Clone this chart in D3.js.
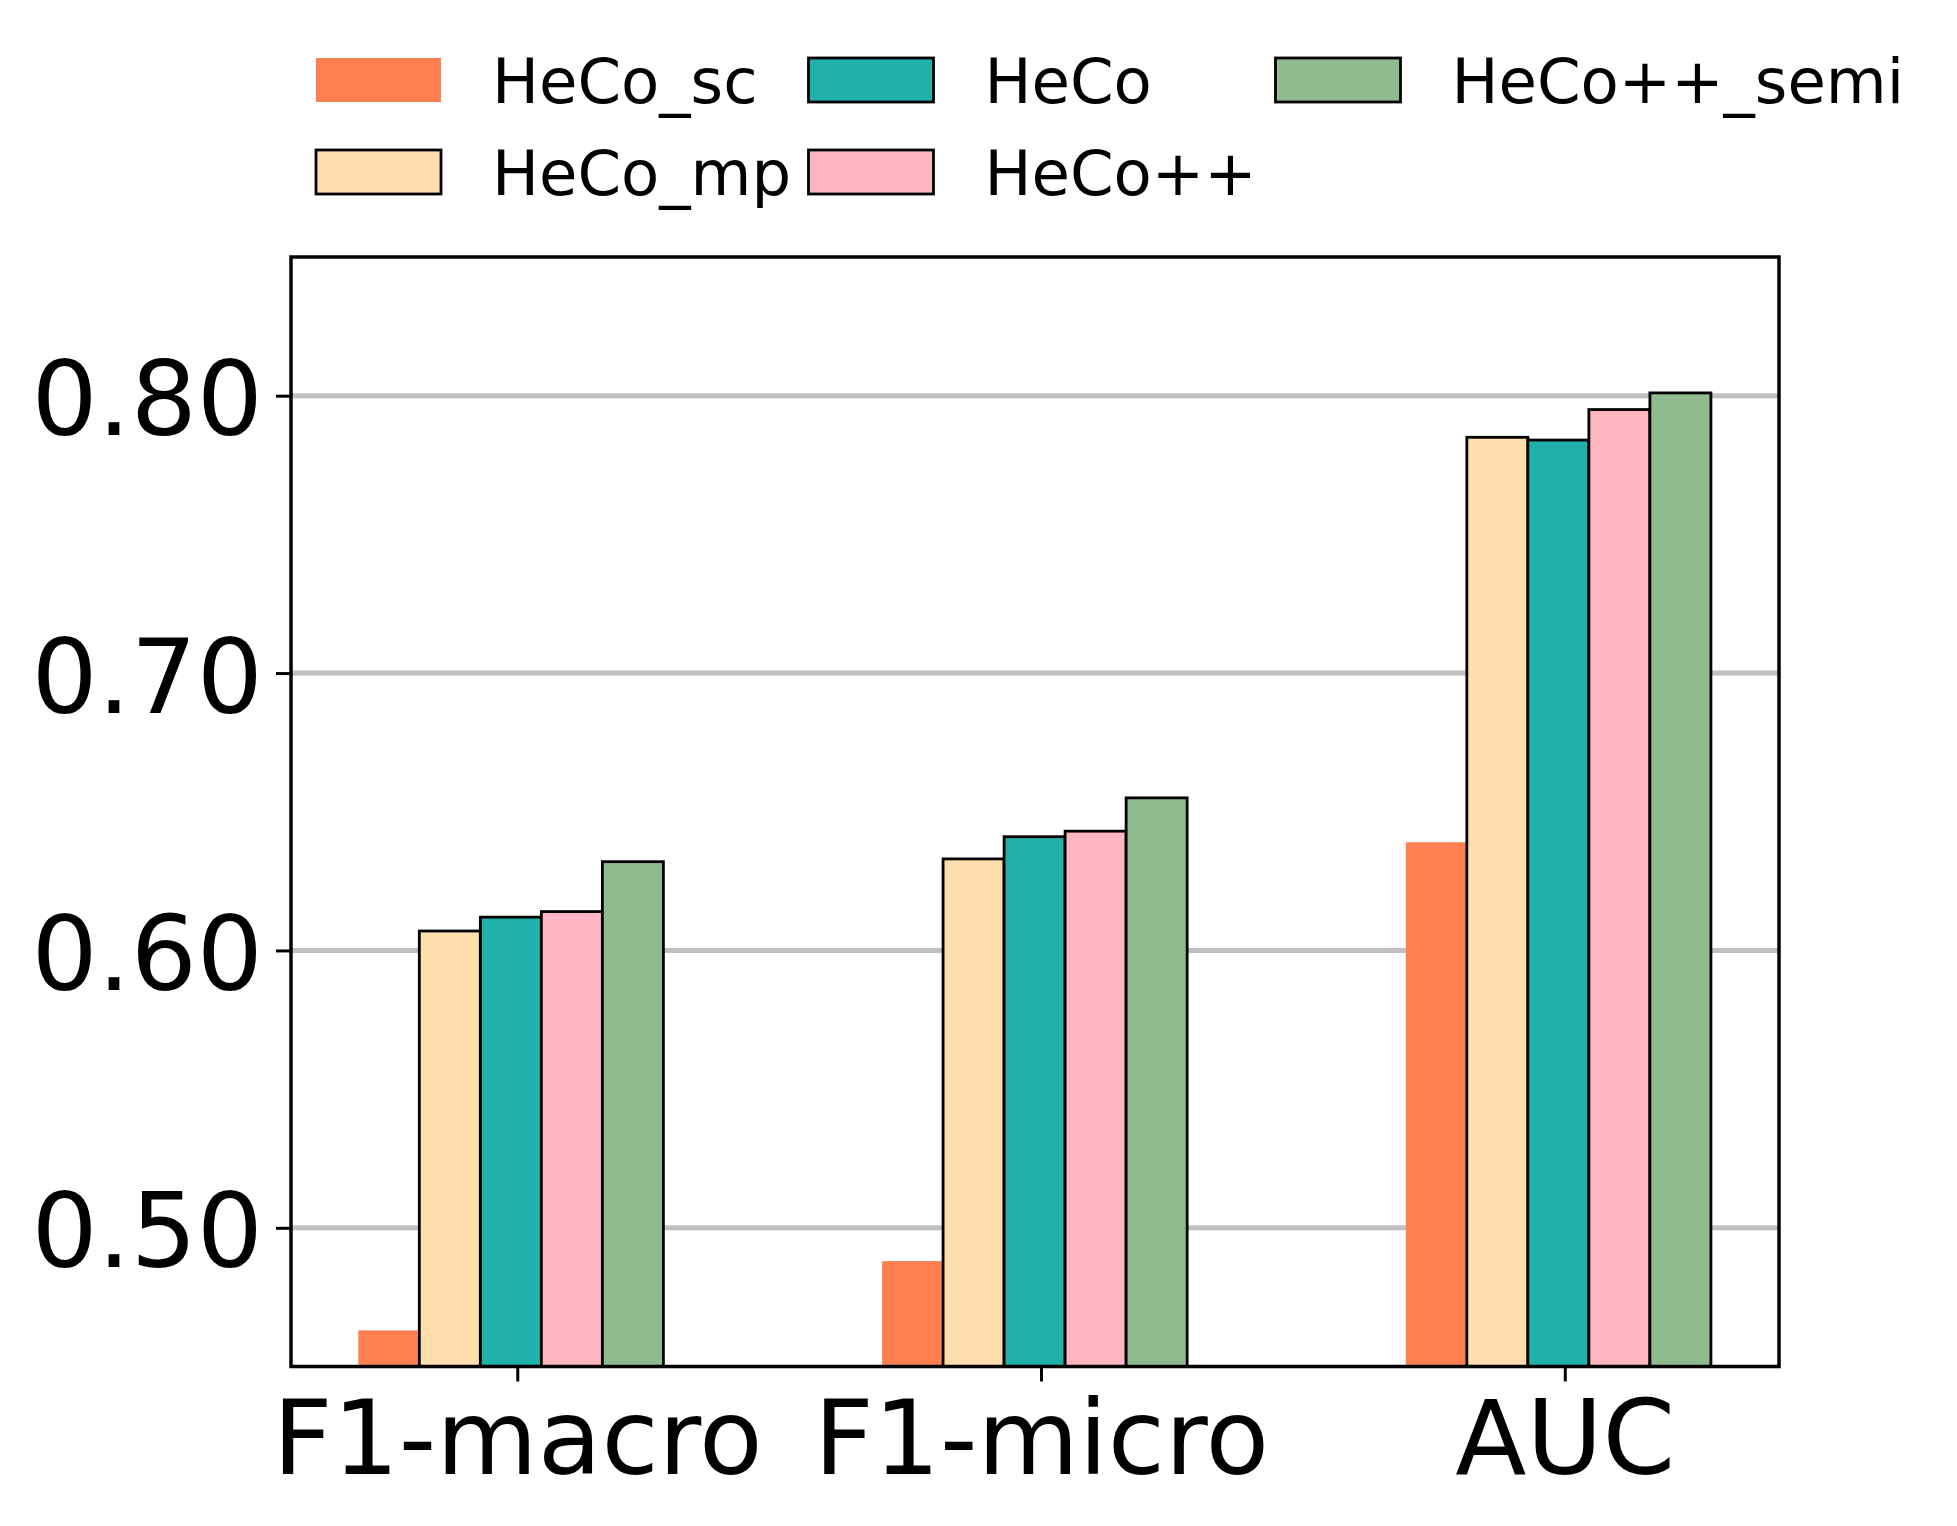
<!DOCTYPE html>
<html>
<head>
<meta charset="utf-8">
<script src="https://cdn.jsdelivr.net/npm/d3@7"></script>
<style>
  body { margin: 0; background: #fff; }
  text { font-family: "DejaVu Sans", sans-serif; }
</style>
</head>
<body>
<script>
var width = 1957,
    height = 1526;

// data
var categories = ["F1-macro", "F1-micro", "AUC"];
var seriesNames = ["HeCo_sc", "HeCo_mp", "HeCo", "HeCo++", "HeCo++_semi"];
var heco_sc   = [0.463, 0.488, 0.639];
var heco_mp   = [0.607, 0.633, 0.785];
var heco      = [0.612, 0.641, 0.784];
var hecopp    = [0.614, 0.643, 0.795];
var hecopp_semi = [0.632, 0.655, 0.801];
var yTicks = [0.50, 0.60, 0.70, 0.80];

var seriesValues = [heco_sc, heco_mp, heco, hecopp, hecopp_semi];
var colors = ["#FF7F50", "#FFDEAD", "#20B2AA", "#FFB6C1", "#8FBC8F"];
var edges = [null, "#000", "#000", "#000", "#000"];

// plot area (note: "top" is reserved on window)
var axLeft = 291, axRight = 1779, axTop = 257, axBottom = 1366.5;
var barW = 0.1165, barStart = -0.3035;

var x = d3.scaleLinear().domain([-0.432, 2.409]).range([axLeft, axRight]);
var y = d3.scaleLinear().domain([0.45, 0.85]).range([axBottom, axTop]);

var svg = d3.select("body").append("svg")
    .attr("width", width)
    .attr("height", height)
    .style("background", "#fff");

// grid
svg.append("g").selectAll("line")
    .data(yTicks)
    .enter().append("line")
    .attr("x1", axLeft).attr("x2", axRight)
    .attr("y1", function(d) { return y(d); })
    .attr("y2", function(d) { return y(d); })
    .attr("stroke", "#c0c0c0")
    .attr("stroke-width", 5);

// bars
var bars = [];
seriesValues.forEach(function(vals, s) {
    vals.forEach(function(v, c) {
        bars.push({ s: s, c: c, v: v });
    });
});

svg.append("g").selectAll("rect")
    .data(bars)
    .enter().append("rect")
    .attr("x", function(d) { return x(d.c + barStart + d.s * barW); })
    .attr("width", function(d) { return x(barW) - x(0); })
    .attr("y", function(d) { return y(d.v); })
    .attr("height", function(d) { return axBottom - y(d.v); })
    .attr("fill", function(d) { return colors[d.s]; })
    .attr("stroke", function(d) { return edges[d.s] || "none"; })
    .attr("stroke-width", 2.8);

// frame
svg.append("rect")
    .attr("x", axLeft).attr("y", axTop)
    .attr("width", axRight - axLeft).attr("height", axBottom - axTop)
    .attr("fill", "none")
    .attr("stroke", "#000")
    .attr("stroke-width", 3.5);

// axes
var yAxis = svg.append("g")
    .attr("transform", "translate(" + axLeft + ",0)")
    .call(d3.axisLeft(y).tickValues(yTicks).tickFormat(d3.format(".2f"))
        .tickSize(15).tickPadding(13));
yAxis.select(".domain").remove();
yAxis.selectAll("line").attr("stroke-width", 3);
yAxis.selectAll("text")
    .attr("dy", "0.375em")
    .style("font-size", "104px")
    .attr("fill", "#000")
    .style("font-family", "DejaVu Sans");

var xAxis = svg.append("g")
    .attr("transform", "translate(0," + axBottom + ")")
    .call(d3.axisBottom(x).tickValues([0, 1, 2])
        .tickFormat(function(i) { return categories[i]; })
        .tickSize(15).tickPadding(19));
xAxis.select(".domain").remove();
xAxis.selectAll("line").attr("stroke-width", 3);
xAxis.selectAll("text")
    .style("font-size", "104px")
    .attr("fill", "#000")
    .style("font-family", "DejaVu Sans");

// legend, column-major like matplotlib ncol=3
var colX = [316, 808.5, 1275.5],
    rowY = [58, 150];

var legend = svg.append("g").selectAll("g")
    .data(seriesNames)
    .enter().append("g")
    .attr("transform", function(d, i) {
        return "translate(" + colX[Math.floor(i / 2)] + "," + rowY[i % 2] + ")";
    });

legend.append("rect")
    .attr("width", 125)
    .attr("height", 44)
    .attr("fill", function(d, i) { return colors[i]; })
    .attr("stroke", function(d, i) { return edges[i] || "none"; })
    .attr("stroke-width", 2.8);

legend.append("text")
    .attr("x", 176)
    .attr("y", 45)
    .style("font-size", "62.5px")
    .attr("fill", "#000")
    .text(function(d) { return d; });

</script>
</body>
</html>
